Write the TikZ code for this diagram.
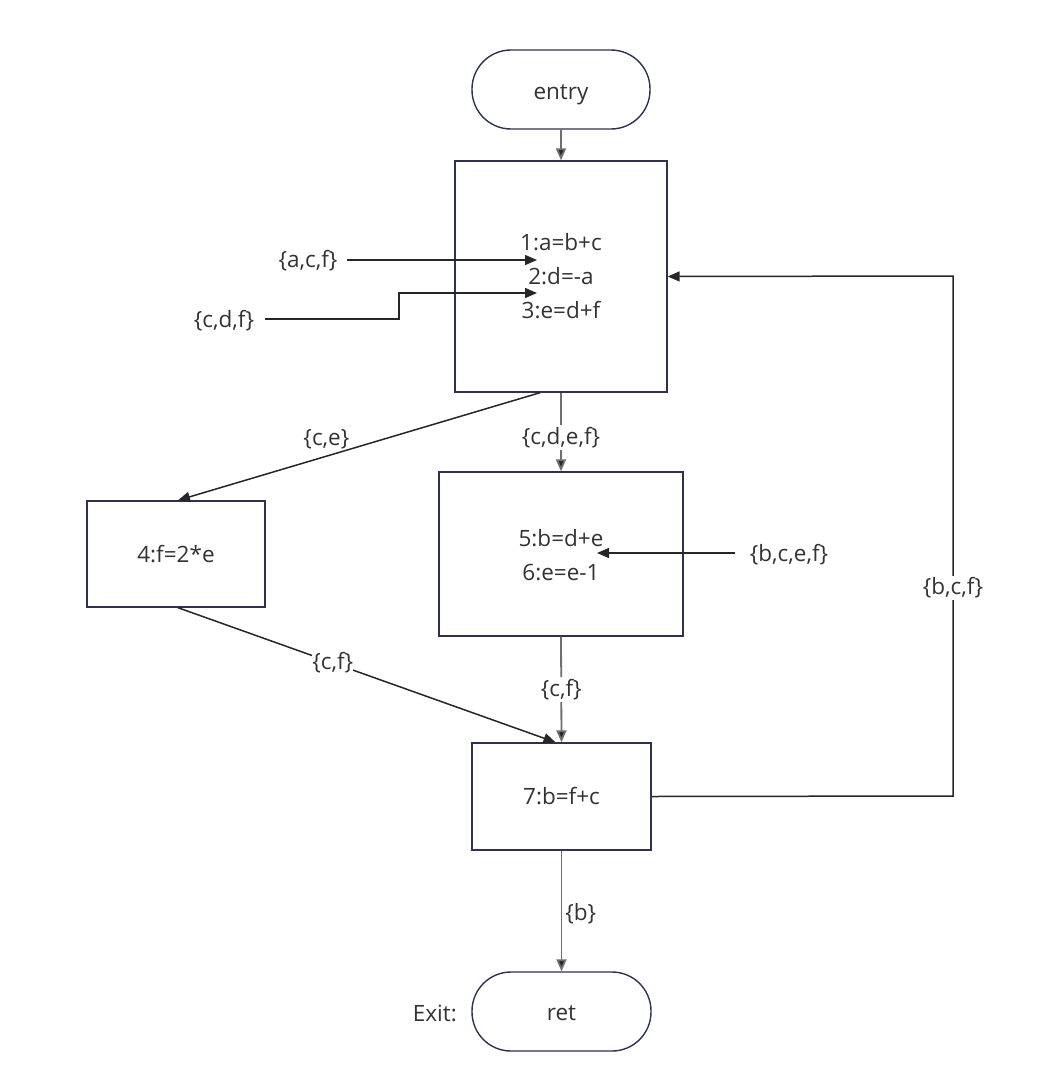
\documentclass[tikz,border=0pt]{standalone}
\usepackage{fontspec}
\setmainfont{Open Sans}
\usetikzlibrary{arrows.meta}
\definecolor{nodeborder}{HTML}{2E3150}
\definecolor{txt}{HTML}{333333}
\definecolor{grayline}{HTML}{6E6E6E}
\newcommand{\lowered}[2]{\raisebox{-#1}[\height][\depth]{#2}}
\begin{document}
\begin{tikzpicture}[x=1pt,y=-1pt,
  every node/.style={font=\fontsize{22.5}{34}\selectfont, text=txt, inner sep=1pt},
  blockbox/.style={draw=nodeborder, line width=1.4pt, fill=white, inner sep=0pt},
  stadium/.style={blockbox, rounded corners=39pt, minimum width=178pt, minimum height=79pt},
  edge/.style={draw=black!85, line width=1.5pt, -{Triangle[length=12pt,width=10pt]}},
  grayedge/.style={edge, draw=grayline, line width=1.8pt, -{Triangle[length=12pt,width=10pt,fill=black!85]}},
  lbl/.style={fill=white, inner sep=2pt}]
\useasboundingbox (0,0) rectangle (1058,1092);
\fill[white] (0,0) rectangle (1058,1092);

% nodes
\node[stadium] (entry) at (561,89.5) {\lowered{5pt}{entry}};
\node[blockbox, minimum width=212pt, minimum height=231pt, align=center] (b1) at (561,276.5) {1:a=b+c\\2:d=-a\\3:e=d+f};
\node[blockbox, minimum width=178pt, minimum height=106pt] (b4) at (176,554) {4:f=2*e};
\node[blockbox, minimum width=244pt, minimum height=164pt, align=center] (b5) at (561,554) {\lowered{3pt}{\begin{tabular}{@{}c@{}}5:b=d+e\\6:e=e-1\end{tabular}}};
\node[blockbox, minimum width=179pt, minimum height=107pt] (b7) at (561.5,796.5) {7:b=f+c};
\node[stadium, minimum width=179pt] (ret) at (561.5,1011.5) {\lowered{2pt}{ret}};
\node[anchor=east] (exit) at (458,1013) {Exit:};

% side labels
\node (acf) at (308,261) {\{a,c,f\}};
\node (cdf) at (224,321) {\{c,d,f\}};
\node (bcef) at (789,555) {\{b,c,e,f\}};

% coordinates
\coordinate (t1) at (537,260);
\coordinate (t2) at (537,293);
\coordinate (s1) at (347,260);
\coordinate (s2) at (265,319);
\coordinate (s5) at (735,553);
\coordinate (t5) at (597,553);
\coordinate (loopc) at (953,796);
\coordinate (looptop) at (953,276);

% edges
\draw[grayedge] (entry) -- (b1.north);
\draw[edge] (s1) -- (t1);
\draw[edge] (s2) -- (399,319) |- (t2);
\draw[edge] (s5) -- (t5);

\draw[edge] ([xshift=-21pt]b1.south) -- node[pos=0.59, above, yshift=5pt] {\{c,e\}} ([xshift=2pt]b4.north);
\draw[grayedge] (b1.south) -- node[lbl, pos=0.57] {\{c,d,e,f\}} (b5.north);
\draw[grayedge] (b5.south) -- node[lbl, pos=0.5] {\{c,f\}} (b7.north);
\draw[edge] ([xshift=2pt]b4.south) -- node[lbl, pos=0.41, inner sep=0pt] {\{c,f\}} ([xshift=-6pt]b7.north);
\draw[grayedge] (b7.south) -- node[right, pos=0.52, xshift=2pt] {\{b\}} (ret.north);
\draw[edge] (b7.east) -- (loopc) -- node[lbl, pos=0.40] {\{b,c,f\}} (looptop) -- (b1.east);
\end{tikzpicture}
\end{document}
